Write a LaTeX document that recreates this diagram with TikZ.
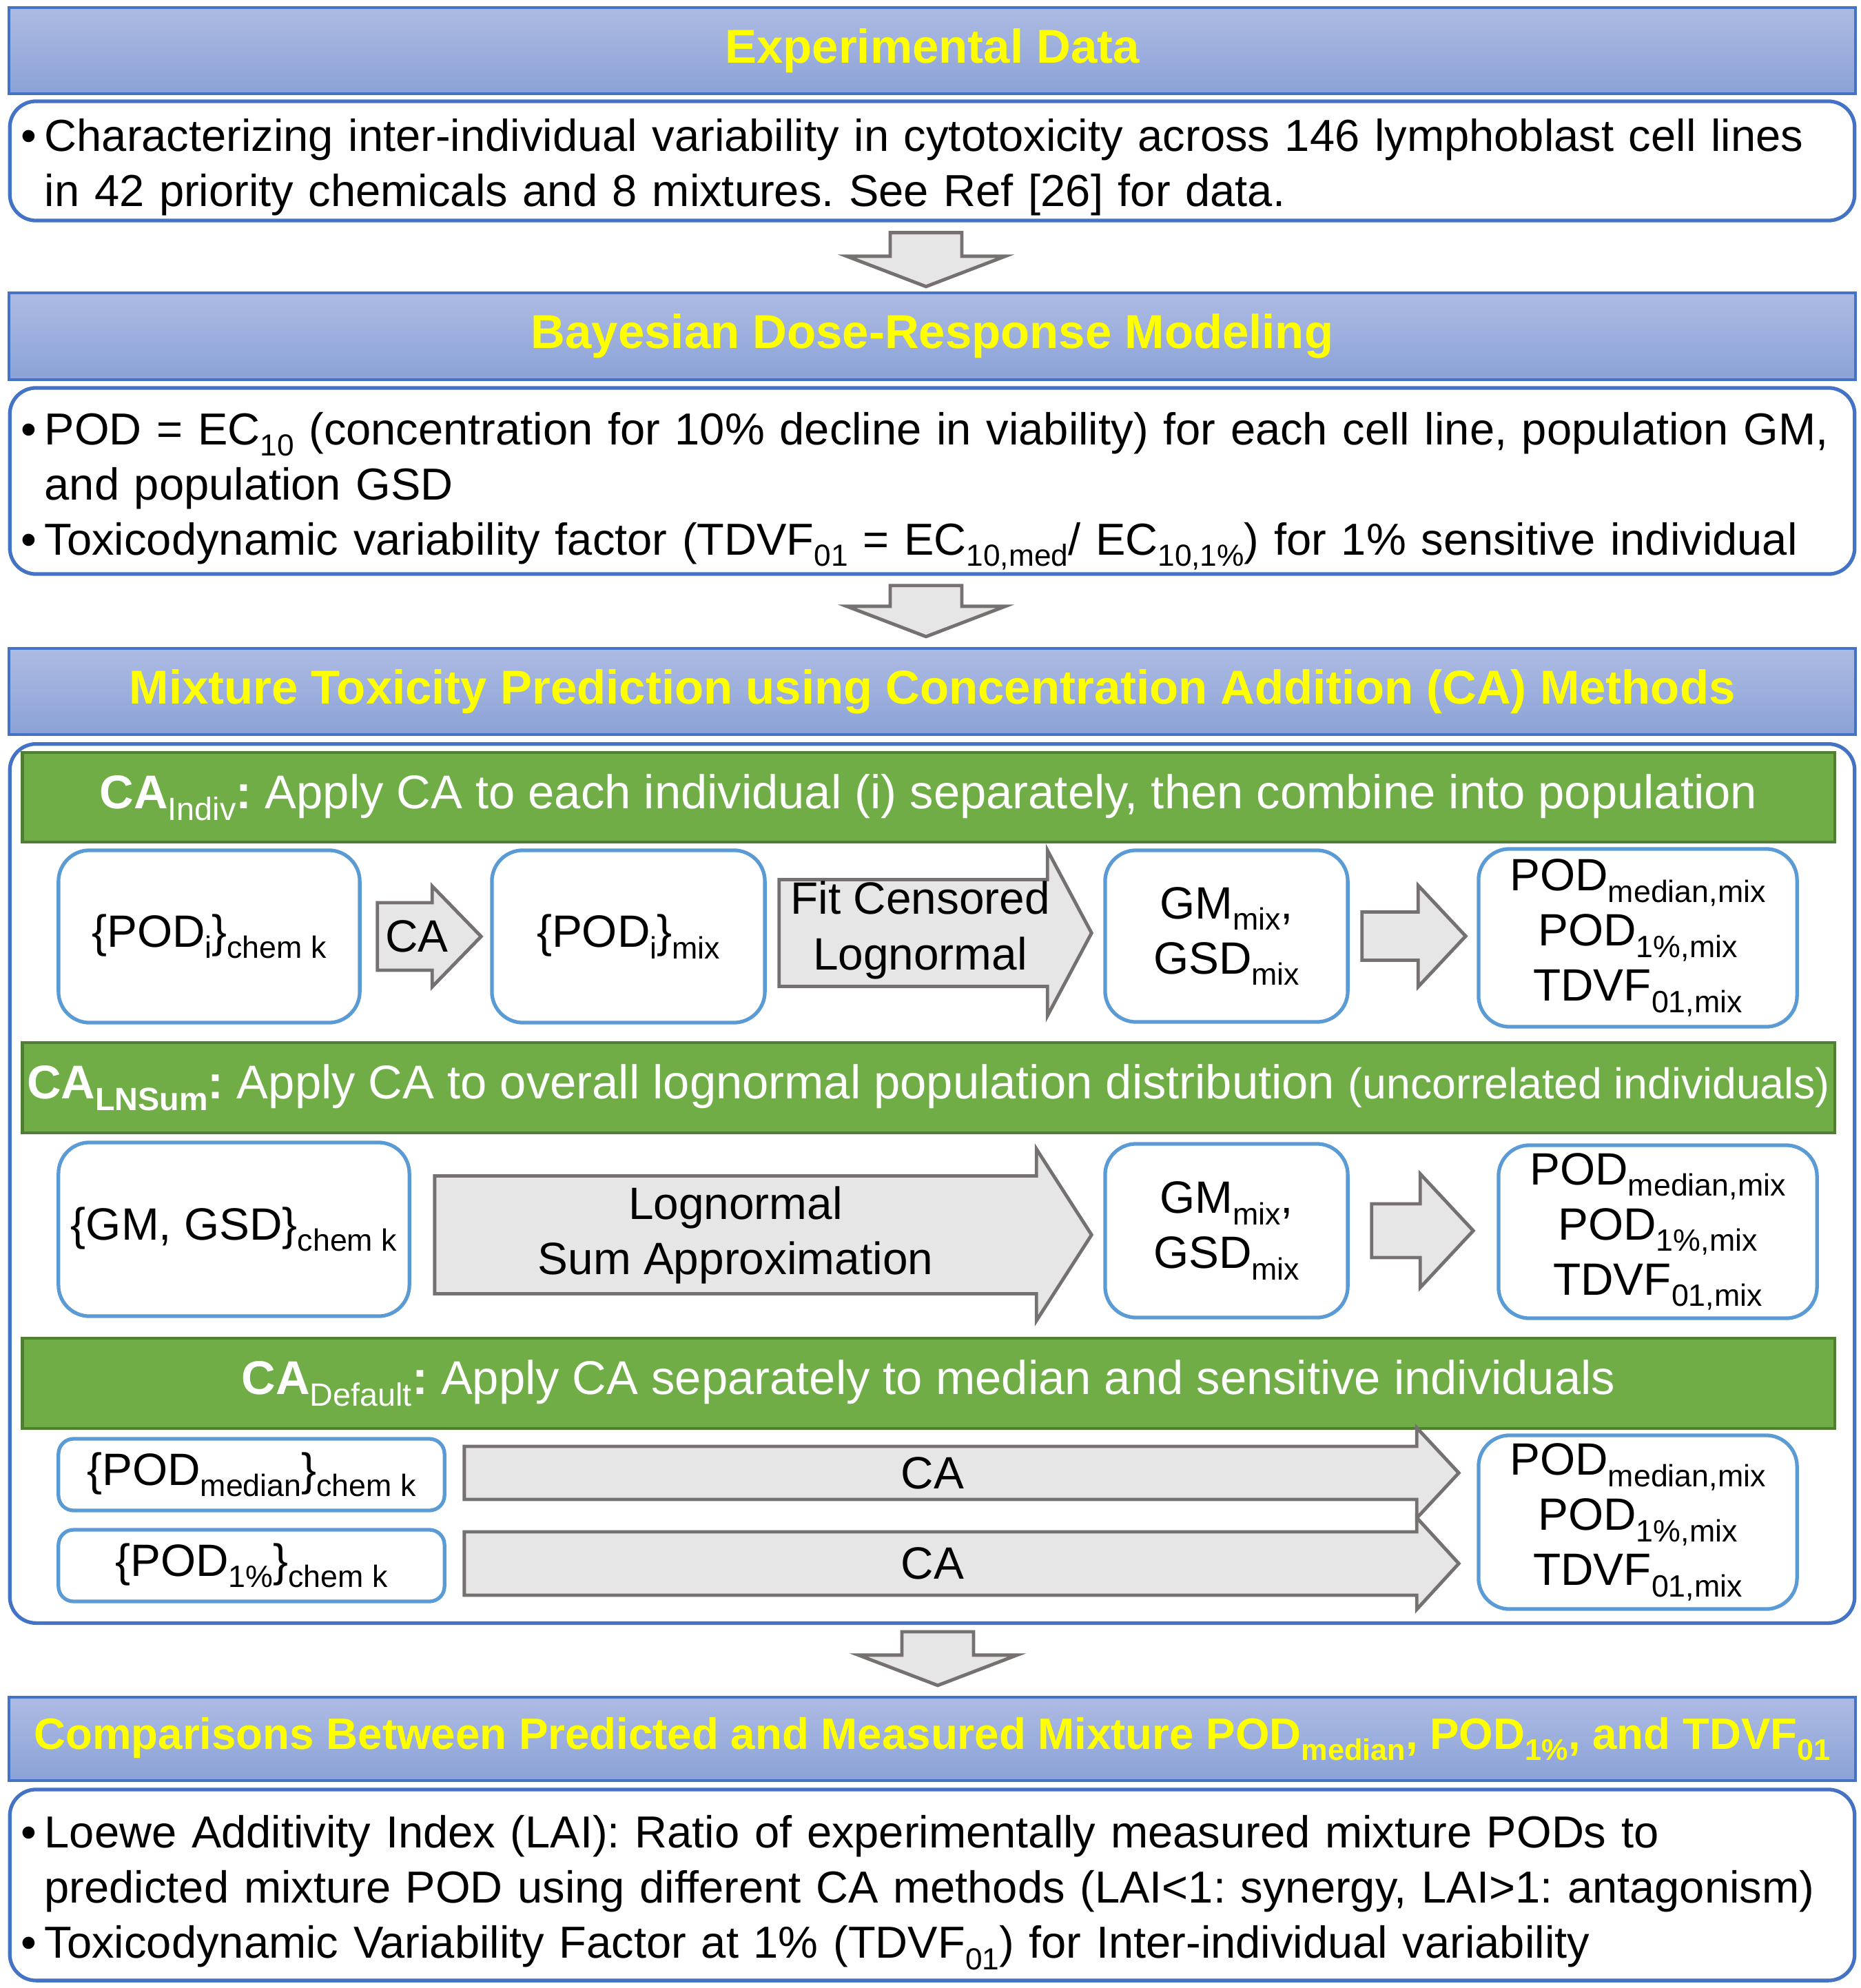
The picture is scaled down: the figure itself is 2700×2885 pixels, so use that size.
\documentclass[tikz,border=0pt]{standalone}
\usepackage{fontspec}
\setmainfont{Liberation Sans}
\usepackage{graphicx}
\usetikzlibrary{calc}

\definecolor{headblue}{HTML}{4472C4}
\definecolor{headtop}{HTML}{ADBBE3}
\definecolor{headbot}{HTML}{8BA2D7}
\definecolor{stepblue}{HTML}{5B9BD5}
\definecolor{greenfill}{HTML}{70AD47}
\definecolor{greenedge}{HTML}{507E32}
\definecolor{arrowfill}{HTML}{E7E6E6}
\definecolor{arrowedge}{HTML}{767171}
\definecolor{titleyellow}{HTML}{FFFF00}

\newcommand{\bodyfont}{\fontsize{18.7}{22.76}\selectfont\frenchspacing}
\newcommand{\listfont}{\fontsize{18.5}{22.76}\selectfont\frenchspacing}
\newcommand{\barfont}{\fontsize{19.55}{23}\selectfont\frenchspacing}
\newcommand{\headfont}{\fontsize{19.6}{23}\selectfont\bfseries}
\newcommand{\dn}[1]{\raisebox{-0.25em}{\scalebox{0.68}{#1}}}
\newcommand{\bitem}[1]{\hangindent=0.43cm\hangafter=1\noindent\hspace*{0.09cm}\makebox[0.34cm][l]{\textbullet}#1\par}
% trims the bottom of a list so that it sits lower in its box
\newcommand{\trimlist}[1]{\par\nointerlineskip\vskip-#1\hbox{}}

% block arrow: tail, tip, half body, half head, head length
\newcommand{\blockarrow}[5]{%
  \draw[grayarrow] ($(#1)+(0,#3)$) -- ($(#2)+(-#5,#3)$) -- ($(#2)+(-#5,#4)$) -- (#2)
    -- ($(#2)+(-#5,-#4)$) -- ($(#2)+(-#5,-#3)$) -- ($(#1)+(0,-#3)$) -- cycle;}
% down arrow between stages: tail, tip
\newcommand{\downblock}[2]{%
  \draw[grayarrow] ($(#1)+(-52,0)$) -- ($(#2)+(-52,-44)$) -- ($(#2)+(-115,-44)$) -- (#2)
    -- ($(#2)+(115,-44)$) -- ($(#2)+(52,-44)$) -- ($(#1)+(52,0)$) -- cycle;}

\tikzset{
  headbar/.style={draw=headblue, line width=1.2pt, top color=headtop, bottom color=headbot,
    minimum width=26.78cm, inner sep=0pt, font=\headfont, text=titleyellow},
  textbox/.style={draw=headblue, line width=1.5pt, fill=white, rounded corners=0.38cm,
    minimum width=26.76cm, inner sep=0pt, text width=26.61cm, align=left, font=\listfont},
  greenbar/.style={draw=greenedge, line width=1.3pt, fill=greenfill, minimum width=26.29cm,
    minimum height=1.31cm, inner sep=0pt, text=white, font=\barfont},
  stepbox/.style={draw=stepblue, line width=1.5pt, fill=white, rounded corners=0.45cm,
    inner sep=0pt, align=center, font=\bodyfont},
  grayarrow/.style={draw=arrowedge, line width=1.4pt, fill=arrowfill, line join=miter},
  lbl/.style={inner sep=0pt, align=center, font=\bodyfont}
}

\begin{document}
\begin{tikzpicture}[x=0.01cm, y=-0.01cm]
	\useasboundingbox (0,0) rectangle (2700,2885);

	% Experimental data
	\node[headbar, minimum height=1.25cm] (exphead) at (1353,73.5) {Experimental Data};
	\node[textbox, minimum height=1.73cm] (expbox) at (1353,233.5) {%
		\bitem{Characterizing inter-individual variability in cytotoxicity across 146 lymphoblast cell lines\newline
		in 42 priority chemicals and 8 mixtures. See Ref [26] for data.}\trimlist{0.18cm}};

	% Dose-response modeling
	\node[headbar, minimum height=1.26cm] (bayeshead) at (1353,488) {Bayesian Dose-Response Modeling};
	\node[textbox, minimum height=2.70cm] (bayesbox) at (1353,698) {%
		\bitem{POD = EC\dn{10} (concentration for 10\% decline in viability) for each cell line, population GM,\newline
		and population GSD}
		\bitem{Toxicodynamic variability factor (TDVF\dn{01} = EC\dn{10,med}/ EC\dn{10,1\%}) for 1\% sensitive individual}\trimlist{0.3cm}};

	% CA methods
	\node[headbar, minimum height=1.25cm] (mixhead) at (1353,1003.5) {Mixture Toxicity Prediction using Concentration Addition (CA) Methods};
	\node[textbox, minimum height=12.75cm] (mixbox) at (1353,1717.5) {};

	% CA indiv
	\node[greenbar, minimum height=1.30cm] (indivbar) at (1347.5,1157) {\textbf{CA}\dn{Indiv}\textbf{:} Apply CA to each individual (i) separately, then combine into population};
	\node[stepbox, minimum width=4.37cm, minimum height=2.50cm] (podk) at (303.5,1359) {\{POD\dn{i}\}\dn{chem k}};
	\node[stepbox, minimum width=3.96cm, minimum height=2.50cm] (podmix) at (912,1359) {\{POD\dn{i}\}\dn{mix}};
	\node[stepbox, minimum width=3.52cm, minimum height=2.49cm] (gma) at (1780,1358.5) {GM\dn{mix},\\GSD\dn{mix}};
	\node[stepbox, minimum width=4.62cm, minimum height=2.58cm] (resa) at (2377,1361) {POD\dn{median,mix}\\POD\dn{1\%,mix}\\TDVF\dn{01,mix}};
	\coordinate (caa) at ($(podk.east)+(23,0)$);
	\coordinate (cab) at ($(caa -| podmix.west)+(-13,0)$);
	\blockarrow{caa}{cab}{49}{73}{71}
	\node[lbl] (catext) at ($(caa)!0.5!(cab)+(-18,0)$) {CA};
	\coordinate (fita) at ($(podmix.east)+(18,-5)$);
	\coordinate (fitb) at ($(fita -| gma.west)+(-17,0)$);
	\blockarrow{fita}{fitb}{77.5}{120}{64}
	\node[lbl] (fittext) at ($(fita)!0.5!(fitb)+(-22,-4)$) {Fit Censored\\Lognormal};
	\coordinate (suma) at ($(gma.east)+(18,0)$);
	\coordinate (sumb) at ($(suma -| resa.west)+(-16,0)$);
	\blockarrow{suma}{sumb}{35}{73.5}{69}

	% CA LNSum
	\node[greenbar] (lnsumbar) at (1347.5,1578.5) {\textbf{CA\dn{LNSum}:} Apply CA to overall lognormal population distribution {\fontsize{17.8}{20}\selectfont (uncorrelated individuals)}};
	\node[stepbox, minimum width=5.09cm, minimum height=2.52cm] (gmgsdk) at (339.5,1784) {\{GM, GSD\}\dn{chem k}};
	\node[stepbox, minimum width=3.52cm, minimum height=2.52cm] (gmb) at (1780,1786) {GM\dn{mix},\\GSD\dn{mix}};
	\node[stepbox, minimum width=4.62cm, minimum height=2.51cm] (resb) at (2406,1787.5) {POD\dn{median,mix}\\POD\dn{1\%,mix}\\TDVF\dn{01,mix}};
	\coordinate (lna) at ($(gmgsdk.east)+(34,8)$);
	\coordinate (lnb) at ($(lna -| gmb.west)+(-17,0)$);
	\blockarrow{lna}{lnb}{85.5}{124.5}{80}
	\node[lbl] (lntext) at ($(lna)!0.5!(lnb)+(-40,0)$) {Lognormal\\Sum Approximation};
	\coordinate (gsa) at ($(gmb.east)+(32,0)$);
	\coordinate (gsb) at ($(gsa -| resb.west)+(-34,0)$);
	\blockarrow{gsa}{gsb}{39}{82.5}{77}

	% CA default
	\node[greenbar] (defbar) at (1347.5,2007.5) {\textbf{CA}\dn{Default}\textbf{:} Apply CA separately to median and sensitive individuals};
	\node[stepbox, rounded corners=0.22cm, minimum width=5.60cm, minimum height=1.04cm] (podmed) at (365,2140) {\{POD\dn{median}\}\dn{chem k}};
	\node[stepbox, rounded corners=0.22cm, minimum width=5.60cm, minimum height=1.04cm] (podone) at (365,2272) {\{POD\dn{1\%}\}\dn{chem k}};
	\node[stepbox, minimum width=4.62cm, minimum height=2.52cm] (resc) at (2377,2209) {POD\dn{median,mix}\\POD\dn{1\%,mix}\\TDVF\dn{01,mix}};
	\coordinate (meda) at ($(podmed.east)+(26,-2.5)$);
	\coordinate (medb) at ($(meda -| resc.west)+(-26,0)$);
	\blockarrow{meda}{medb}{38.5}{65.5}{61}
	\node[lbl] (medtext) at ($(meda)!0.5!(medb)+(-42,0)$) {CA};
	\coordinate (onea) at ($(podone.east)+(26,-3)$);
	\coordinate (oneb) at ($(onea -| resc.west)+(-26,0)$);
	\blockarrow{onea}{oneb}{46}{66.5}{61}
	\node[lbl] (onetext) at ($(onea)!0.5!(oneb)+(-42,0)$) {CA};

	% Comparisons
	\node[headbar, minimum height=1.21cm, font=\fontsize{18.1}{22}\selectfont\bfseries] (comphead) at (1353,2523.5) {Comparisons Between Predicted and Measured Mixture POD\dn{median}, POD\dn{1\%}, and TDVF\dn{01}};
	\node[textbox, minimum height=2.77cm] (compbox) at (1353,2735.5) {%
		\bitem{Loewe Additivity Index (LAI): Ratio of experimentally measured mixture PODs to\newline
		predicted mixture POD using different CA methods (LAI<1: synergy, LAI>1: antagonism)}
		\bitem{Toxicodynamic Variability Factor at 1\% (TDVF\dn{01}) for Inter-individual variability}\trimlist{0.22cm}};

	% Stage arrows
	\coordinate (dna) at ($(expbox.south)+(-9,15)$);
	\coordinate (dnb) at ($(dna |- bayeshead.north)+(0,-7)$);
	\downblock{dna}{dnb}
	\coordinate (dnc) at ($(bayesbox.south)+(-9,14)$);
	\coordinate (dnd) at ($(dnc |- mixhead.north)+(0,-15)$);
	\downblock{dnc}{dnd}
	\coordinate (dne) at ($(mixbox.south)+(8,10)$);
	\coordinate (dnf) at ($(dne |- comphead.north)+(0,-15)$);
	\downblock{dne}{dnf}
\end{tikzpicture}
\end{document}
